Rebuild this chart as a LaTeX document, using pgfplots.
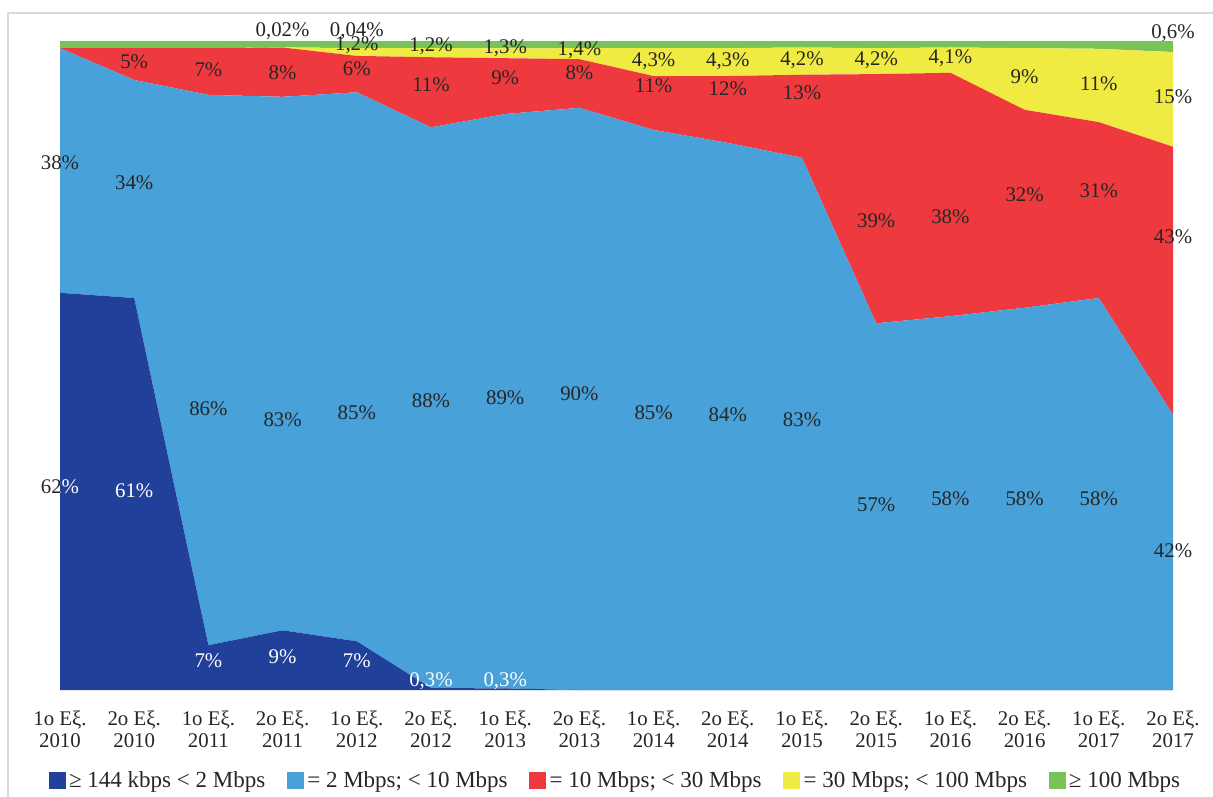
\documentclass[border=0pt]{standalone}
\usepackage{pgfplots}
\pgfplotsset{compat=1.18}
\usepackage{fontspec}
\setmainfont{Liberation Serif}
\definecolor{cDark}{RGB}{33,64,154}
\definecolor{cLight}{RGB}{72,161,217}
\definecolor{cRed}{RGB}{238,58,62}
\definecolor{cYel}{RGB}{240,235,66}
\definecolor{cGreen}{RGB}{120,194,87}
\definecolor{cTxt}{RGB}{38,38,38}
\definecolor{cBorder}{RGB}{217,217,217}
\tikzset{lbl/.style={font=\fontsize{12.5}{13.2}\selectfont, inner sep=0pt, text=cTxt},
         wlbl/.style={font=\fontsize{12.5}{13.2}\selectfont, inner sep=0pt, text=white}}
\begin{document}
\begin{tikzpicture}
\useasboundingbox (0pt,0pt) rectangle (727.8pt,477.6pt);
\draw[cBorder, line width=1.2pt] (4.8pt,-20pt) -- (4.8pt,469.8pt) -- (740pt,469.8pt);
\begin{axis}[
  at={(36pt,63.6pt)}, anchor=south west,
  scale only axis, width=667.8pt, height=389.4pt,
  xmin=0, xmax=15, ymin=0, ymax=100,
  stack plots=y,
  axis line style={draw=none},
  major tick length=0pt,
  ytick=\empty,
  xtick={0,...,15},
  xticklabels={{1o Eξ.\\2010},{2o Eξ.\\2010},{1o Eξ.\\2011},{2o Eξ.\\2011},{1o Eξ.\\2012},{2o Eξ.\\2012},{1o Eξ.\\2013},{2o Eξ.\\2013},{1o Eξ.\\2014},{2o Eξ.\\2014},{1o Eξ.\\2015},{2o Eξ.\\2015},{1o Eξ.\\2016},{2o Eξ.\\2016},{1o Eξ.\\2017},{2o Eξ.\\2017}},
  xticklabel style={align=center, font=\fontsize{12.5}{13.2}\selectfont, text=cTxt, yshift=-8.8pt},
  clip=false,
  legend columns=5,
  legend style={at={(0.4996,-0.14)}, anchor=center, draw=none, fill=none,
    font=\fontsize{13.8}{14}\selectfont, text=cTxt,
    /tikz/every even column/.append style={column sep=11pt}},
  legend image code/.code={\fill[#1,draw=none] (0pt,-5.1pt) rectangle (10.2pt,5.1pt);},
]
\addplot[fill=cDark, draw=none] coordinates {(0,61.2) (1,60.4) (2,6.9) (3,9.2) (4,7.5) (5,0.3) (6,0.25) (7,0) (8,0) (9,0) (10,0) (11,0) (12,0) (13,0) (14,0) (15,0)} \closedcycle;
\addlegendentry{≥ 144 kbps < 2 Mbps}
\addplot[fill=cLight, draw=none] coordinates {(0,37.7) (1,33.6) (2,84.8) (3,82.2) (4,84.6) (5,86.4) (6,88.5) (7,89.7) (8,86.3) (9,84.3) (10,82.0) (11,56.5) (12,57.6) (13,58.9) (14,60.4) (15,42.4)} \closedcycle;
\addlegendentry{= 2 Mbps; < 10 Mbps}
\addplot[fill=cRed, draw=none] coordinates {(0,0) (1,4.9) (2,7.2) (3,7.6) (4,5.6) (5,10.8) (6,8.6) (7,7.5) (8,8.3) (9,10.3) (10,12.8) (11,38.4) (12,37.5) (13,30.5) (14,27.1) (15,41.3)} \closedcycle;
\addlegendentry{= 10 Mbps; < 30 Mbps}
\addplot[fill=cYel, draw=none] coordinates {(0,0) (1,0) (2,0) (3,0.02) (4,1.2) (5,1.4) (6,1.5) (7,1.7) (8,4.3) (9,4.3) (10,4.2) (11,4.0) (12,3.9) (13,9.5) (14,11.3) (15,14.6)} \closedcycle;
\addlegendentry{= 30 Mbps; < 100 Mbps}
\addplot[fill=cGreen, draw=none] coordinates {(0,1.1) (1,1.1) (2,1.1) (3,0.98) (4,1.1) (5,1.1) (6,1.15) (7,1.1) (8,1.1) (9,1.1) (10,1.0) (11,1.1) (12,1.0) (13,1.1) (14,1.2) (15,1.7)} \closedcycle;
\addlegendentry{≥ 100 Mbps}
\end{axis}
\begin{scope}[shift={(36pt,63.6pt)}, x=44.52pt, y=3.894pt]
\begin{scope}
\clip (-1,0) rectangle (0,100);
\node[lbl] at (0,31.3) {62\%};
\end{scope}
\begin{scope}
\clip (0,0) rectangle (1,100);
\node[wlbl] at (0,31.3) {62\%};
\end{scope}
\foreach \x/\y/\t in {1/30.7/61, 2/4.5/7, 3/5.1/9, 4/4.5/7, 5/1.4/{0,3}, 6/1.4/{0,3}}
  \node[wlbl] at (\x,\y) {\t\%};
\foreach \x/\y/\t in {0/81.2/38, 1/78.1/34, 2/43.3/86, 3/41.6/83, 4/42.7/85, 5/44.5/88, 6/45.0/89, 7/45.6/90, 8/42.8/85, 9/42.4/84, 10/41.6/83, 11/28.5/57, 12/29.4/58, 13/29.4/58, 14/29.4/58, 15/21.4/42,
  1/96.8/5, 2/95.5/7, 3/95.1/8, 4/95.8/6, 5/93.2/11, 6/94.3/9, 7/95.1/8, 8/93.1/11, 9/92.6/12, 10/92.0/13, 11/72.3/39, 12/72.9/38, 13/76.3/32, 14/77.0/31, 15/69.8/43,
  3/101.5/{0,02}, 4/99.4/{1,2}, 5/99.2/{1,2}, 6/98.9/{1,3}, 7/98.6/{1,4}, 8/96.9/{4,3}, 9/96.9/{4,3}, 10/97.1/{4,2}, 11/97.1/{4,2}, 12/97.4/{4,1}, 13/94.5/9, 14/93.4/11, 15/91.4/15,
  4/101.5/{0,04}, 15/101.2/{0,6}}
  \node[lbl] at (\x,\y) {\t\%};
\end{scope}
\end{tikzpicture}
\end{document}
